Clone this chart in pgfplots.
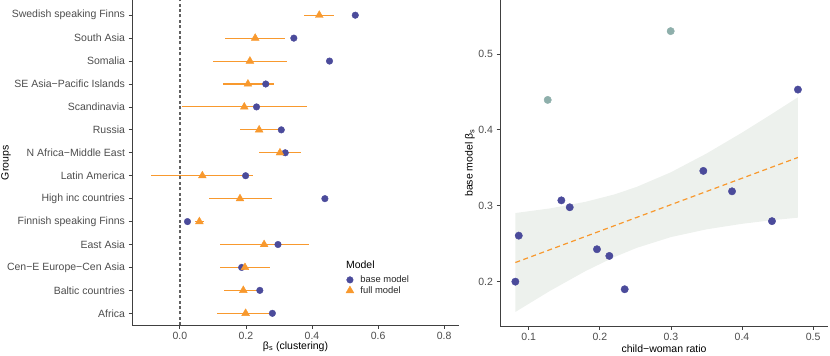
\documentclass[border=0pt]{standalone}
\usepackage{fontspec}
\setmainfont{Liberation Sans}
\usepackage{pgfplots}
\pgfplotsset{compat=1.18}
\usepackage{pgfplotstable}

\definecolor{basecol}{HTML}{4B4B9B}
\definecolor{fullcol}{HTML}{F8992E}
\definecolor{hicol}{HTML}{8EAFAB}
\definecolor{bandcol}{HTML}{EDF1ED}
\definecolor{ticktext}{HTML}{4D4D4D}

% left panel: beta_s per group, base and full model (with CI of full model)
\pgfplotstableread{
i  base   full   lo      hi
14 0.531  0.422  0.376   0.468
13 0.345  0.228  0.138   0.317
12 0.453  0.212  0.101   0.323
11 0.260  0.206  0.130   0.285
10 0.232  0.195  0.005   0.386
9  0.307  0.240  0.182   0.309
8  0.319  0.303  0.240   0.367
7  0.199  0.068  -0.086  0.222
6  0.439  0.182  0.087   0.280
5  0.023  0.059  0.045   0.072
4  0.297  0.255  0.122   0.390
3  0.187  0.197  0.121   0.273
2  0.242  0.192  0.134   0.241
1  0.280  0.199  0.112   0.280
}\groups

% right panel: base model beta_s against child-woman ratio
\pgfplotstableread{
cwr     beta
0.0812  0.200
0.0860  0.2606
0.1459  0.3071
0.1577  0.2980
0.1960  0.2427
0.2134  0.2339
0.2350  0.1900
0.3456  0.3459
0.3860  0.3190
0.4422  0.2797
0.4787  0.4530
}\fitted
\pgfplotstableread{
cwr     beta
0.1267  0.4394
0.2997  0.5300
}\outliers

\pgfplotsset{
  panel/.style={
    scale only axis,
    anchor=south west,
    axis x line*=bottom, axis y line*=left,
    axis line style={black!75, line width=1bp, -},
    tick align=outside, major tick length=3.5bp,
    tick style={black!75, line width=0.8bp},
    ticklabel style={font=\fontsize{10.5bp}{12bp}\selectfont, text=ticktext},
    label style={font=\fontsize{10.5bp}{12bp}\selectfont},
  },
}

\begin{document}
\begin{tikzpicture}
\path[use as bounding box] (0,0) rectangle (830bp,356bp);

\begin{axis}[panel,
  at={(132bp,30.7bp)},
  width=327bp, height=325bp,
  xmin=-0.145, xmax=0.845,
  ymin=0.477, ymax=14.65,
  xtick={0,0.2,0.4,0.6,0.8},
  xticklabels={0.0,0.2,0.4,0.6,0.8},
  ytick={1,...,14},
  yticklabels={Africa, Baltic countries, Cen−E Europe−Cen Asia, East Asia,
    Finnish speaking Finns, High inc countries, Latin America,
    N Africa−Middle East, Russia, Scandinavia, SE Asia−Pacific Islands,
    Somalia, South Asia, Swedish speaking Finns},
  xlabel={β\textsubscript{s} (clustering)},
  ylabel={Groups},
  xlabel style={at={(axis description cs:0.5,-0.0655)}, anchor=center},
  ylabel style={at={(axis description cs:-0.3853,0.5)}, anchor=center},
  legend cell align=left,
  legend style={at={(axis description cs:0.654,0.155)}, anchor=north west,
    draw=none, fill=none, inner sep=0pt, row sep=1.2bp,
    font=\fontsize{9.4bp}{10bp}\selectfont,
    nodes={inner sep=0.6bp, text=black!85}},
  legend image code/.code={\draw[#1] plot coordinates {(3.3bp,0bp)};},
]
\addplot[black!62, line width=1.3bp, dash pattern=on 3bp off 2.4bp, forget plot]
  coordinates {(0,0.477) (0,14.65)};
\addplot[only marks, mark=*, mark size=3.3bp, basecol, forget plot]
  table[x=base, y=i] {\groups};
\addplot[only marks, mark=triangle*, mark size=4.5bp, fullcol, forget plot,
  error bars/.cd, x dir=both, x explicit, error mark=none,
  error bar style={line width=1.1bp, fullcol}]
  table[x=full, y=i,
    x error plus expr=\thisrow{hi}-\thisrow{full},
    x error minus expr=\thisrow{full}-\thisrow{lo}] {\groups};
\addlegendimage{only marks, mark=*, mark size=3.3bp, basecol}
\addlegendentry{\hspace{6bp}base model}
\addlegendimage{only marks, mark=triangle*, mark size=4.5bp, fullcol}
\addlegendentry{\hspace{6bp}full model}
\node[anchor=west, inner sep=0pt, font=\fontsize{10.5bp}{12bp}\selectfont]
  at (axis description cs:0.654,0.1875) {Model};
\end{axis}

\begin{axis}[panel,
  at={(500bp,30bp)},
  width=328bp, height=326bp,
  xmin=0.0596, xmax=0.521,
  ymin=0.1416, ymax=0.571,
  xtick={0.1,0.2,0.3,0.4,0.5},
  xticklabels={0.1,0.2,0.3,0.4,0.5},
  ytick={0.2,0.3,0.4,0.5},
  yticklabels={0.2,0.3,0.4,0.5},
  xlabel={child−woman ratio},
  ylabel={base model β\textsubscript{s}},
  xlabel style={at={(axis description cs:0.5,-0.0684)}, anchor=center},
  ylabel style={at={(axis description cs:-0.0915,0.5)}, anchor=center},
]
\addplot[fill=bandcol, draw=none] coordinates {
  (0.0812,0.2904) (0.13,0.2965) (0.18,0.3052) (0.22,0.3148) (0.2516,0.3247)
  (0.30,0.3441) (0.35,0.3687) (0.40,0.3963) (0.44,0.4197) (0.4787,0.4429)
  (0.4787,0.2843) (0.44,0.2807) (0.40,0.2762) (0.35,0.2689) (0.30,0.2587)
  (0.2516,0.2444) (0.22,0.2322) (0.18,0.2140) (0.13,0.1879) (0.0812,0.1601)
} -- cycle;
\addplot[fullcol, line width=1.2bp, dash pattern=on 5bp off 3.5bp]
  coordinates {(0.0812,0.2252) (0.4787,0.3636)};
\addplot[only marks, mark=*, mark size=3.7bp, basecol]
  table[x=cwr, y=beta] {\fitted};
\addplot[only marks, mark=*, mark size=3.7bp, hicol]
  table[x=cwr, y=beta] {\outliers};
\end{axis}
\end{tikzpicture}
\end{document}
